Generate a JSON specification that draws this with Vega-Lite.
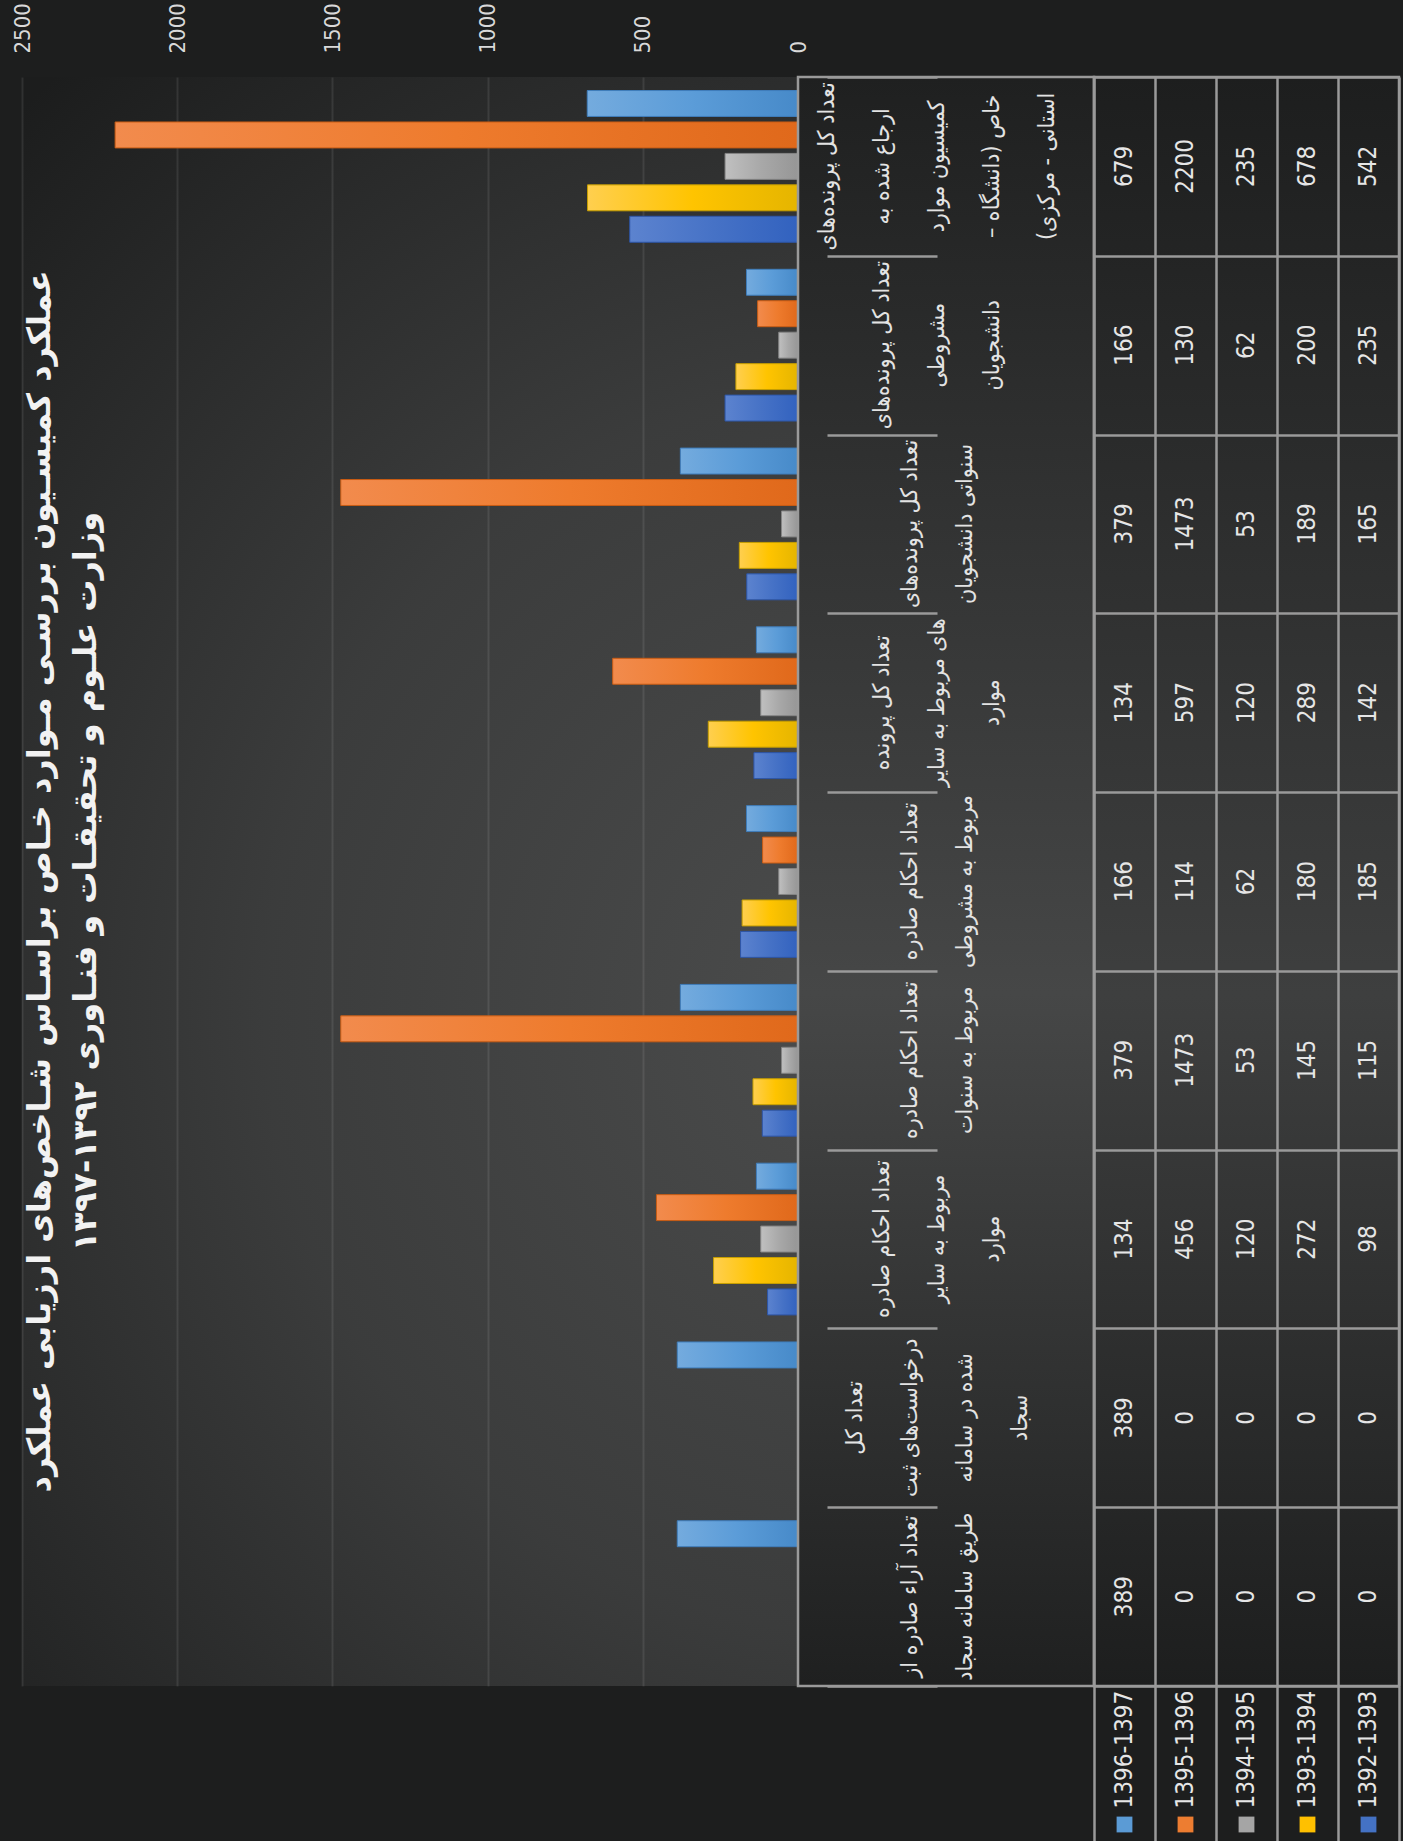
{
  "$schema": "https://vega.github.io/schema/vega-lite/v6.json",
  "autosize": {"type": "pad"},
  "padding": {"left": 10, "top": 2, "right": 2, "bottom": 0},
  "background": "#1d1e1e",
  "bounds": "flush",
  "spacing": 0,
  "config": {
    "view": {"stroke": null},
    "font": "DejaVu Sans",
    "axis": {"title": null}
  },
  "datasets": {
    "rows": [
      {"indicator": "تعداد کل پرونده‌های\nارجاع شده به\nکمیسیون موارد\nخاص (دانشگاه –\u200f\nاستانی - مرکزی)\u200f", "period": "1396-1397", "value": 679},
      {"indicator": "تعداد کل پرونده‌های\nارجاع شده به\nکمیسیون موارد\nخاص (دانشگاه –\u200f\nاستانی - مرکزی)\u200f", "period": "1395-1396", "value": 2200},
      {"indicator": "تعداد کل پرونده‌های\nارجاع شده به\nکمیسیون موارد\nخاص (دانشگاه –\u200f\nاستانی - مرکزی)\u200f", "period": "1394-1395", "value": 235},
      {"indicator": "تعداد کل پرونده‌های\nارجاع شده به\nکمیسیون موارد\nخاص (دانشگاه –\u200f\nاستانی - مرکزی)\u200f", "period": "1393-1394", "value": 678},
      {"indicator": "تعداد کل پرونده‌های\nارجاع شده به\nکمیسیون موارد\nخاص (دانشگاه –\u200f\nاستانی - مرکزی)\u200f", "period": "1392-1393", "value": 542},
      {"indicator": "تعداد کل پرونده‌های\nمشروطی\nدانشجویان", "period": "1396-1397", "value": 166},
      {"indicator": "تعداد کل پرونده‌های\nمشروطی\nدانشجویان", "period": "1395-1396", "value": 130},
      {"indicator": "تعداد کل پرونده‌های\nمشروطی\nدانشجویان", "period": "1394-1395", "value": 62},
      {"indicator": "تعداد کل پرونده‌های\nمشروطی\nدانشجویان", "period": "1393-1394", "value": 200},
      {"indicator": "تعداد کل پرونده‌های\nمشروطی\nدانشجویان", "period": "1392-1393", "value": 235},
      {"indicator": "تعداد کل پرونده‌های\nسنواتی دانشجویان", "period": "1396-1397", "value": 379},
      {"indicator": "تعداد کل پرونده‌های\nسنواتی دانشجویان", "period": "1395-1396", "value": 1473},
      {"indicator": "تعداد کل پرونده‌های\nسنواتی دانشجویان", "period": "1394-1395", "value": 53},
      {"indicator": "تعداد کل پرونده‌های\nسنواتی دانشجویان", "period": "1393-1394", "value": 189},
      {"indicator": "تعداد کل پرونده‌های\nسنواتی دانشجویان", "period": "1392-1393", "value": 165},
      {"indicator": "تعداد کل پرونده\nهای مربوط به سایر\nموارد", "period": "1396-1397", "value": 134},
      {"indicator": "تعداد کل پرونده\nهای مربوط به سایر\nموارد", "period": "1395-1396", "value": 597},
      {"indicator": "تعداد کل پرونده\nهای مربوط به سایر\nموارد", "period": "1394-1395", "value": 120},
      {"indicator": "تعداد کل پرونده\nهای مربوط به سایر\nموارد", "period": "1393-1394", "value": 289},
      {"indicator": "تعداد کل پرونده\nهای مربوط به سایر\nموارد", "period": "1392-1393", "value": 142},
      {"indicator": "تعداد احکام صادره\nمربوط به مشروطی", "period": "1396-1397", "value": 166},
      {"indicator": "تعداد احکام صادره\nمربوط به مشروطی", "period": "1395-1396", "value": 114},
      {"indicator": "تعداد احکام صادره\nمربوط به مشروطی", "period": "1394-1395", "value": 62},
      {"indicator": "تعداد احکام صادره\nمربوط به مشروطی", "period": "1393-1394", "value": 180},
      {"indicator": "تعداد احکام صادره\nمربوط به مشروطی", "period": "1392-1393", "value": 185},
      {"indicator": "تعداد احکام صادره\nمربوط به سنوات", "period": "1396-1397", "value": 379},
      {"indicator": "تعداد احکام صادره\nمربوط به سنوات", "period": "1395-1396", "value": 1473},
      {"indicator": "تعداد احکام صادره\nمربوط به سنوات", "period": "1394-1395", "value": 53},
      {"indicator": "تعداد احکام صادره\nمربوط به سنوات", "period": "1393-1394", "value": 145},
      {"indicator": "تعداد احکام صادره\nمربوط به سنوات", "period": "1392-1393", "value": 115},
      {"indicator": "تعداد احکام صادره\nمربوط به سایر\nموارد", "period": "1396-1397", "value": 134},
      {"indicator": "تعداد احکام صادره\nمربوط به سایر\nموارد", "period": "1395-1396", "value": 456},
      {"indicator": "تعداد احکام صادره\nمربوط به سایر\nموارد", "period": "1394-1395", "value": 120},
      {"indicator": "تعداد احکام صادره\nمربوط به سایر\nموارد", "period": "1393-1394", "value": 272},
      {"indicator": "تعداد احکام صادره\nمربوط به سایر\nموارد", "period": "1392-1393", "value": 98},
      {"indicator": "تعداد کل\nدرخواست‌های ثبت\nشده در سامانه\nسجاد", "period": "1396-1397", "value": 389},
      {"indicator": "تعداد کل\nدرخواست‌های ثبت\nشده در سامانه\nسجاد", "period": "1395-1396", "value": 0},
      {"indicator": "تعداد کل\nدرخواست‌های ثبت\nشده در سامانه\nسجاد", "period": "1394-1395", "value": 0},
      {"indicator": "تعداد کل\nدرخواست‌های ثبت\nشده در سامانه\nسجاد", "period": "1393-1394", "value": 0},
      {"indicator": "تعداد کل\nدرخواست‌های ثبت\nشده در سامانه\nسجاد", "period": "1392-1393", "value": 0},
      {"indicator": "تعداد آراء صادره از\nطریق سامانه سجاد", "period": "1396-1397", "value": 389},
      {"indicator": "تعداد آراء صادره از\nطریق سامانه سجاد", "period": "1395-1396", "value": 0},
      {"indicator": "تعداد آراء صادره از\nطریق سامانه سجاد", "period": "1394-1395", "value": 0},
      {"indicator": "تعداد آراء صادره از\nطریق سامانه سجاد", "period": "1393-1394", "value": 0},
      {"indicator": "تعداد آراء صادره از\nطریق سامانه سجاد", "period": "1392-1393", "value": 0}
    ]
  },
  "hconcat": [
    {
      "width": 776,
      "height": 1609,
      "data": {"name": "rows"},
      "view": {"fill": {"gradient": "radial", "x1": 0.8, "y1": 0.58, "r1": 0, "x2": 0.8, "y2": 0.58, "r2": 0.78, "stops": [{"offset": 0, "color": "#4c4d4d"}, {"offset": 0.5, "color": "#3b3c3c"}, {"offset": 1, "color": "#1c1d1d"}]}},
      "title": {
        "text": ["عملکرد کمیسـیون بررسـی مـوارد خـاص براسـاس شـاخص‌های ارزیابی عملکرد", "وزارت علـوم و تحقیقـات و فنـاوری ۱۳۹۲-۱۳۹۷"],
        "orient": "left",
        "anchor": "middle",
        "offset": -92,
        "font": "DejaVu Sans",
        "fontSize": 32,
        "fontWeight": "bold",
        "color": "#f2f2f2",
        "lineHeight": 46
      },
      "encoding": {
        "x": {
          "field": "value",
          "type": "quantitative",
          "scale": {"domain": [0, 2500], "reverse": true, "nice": false},
          "axis": {
            "orient": "top",
            "values": [0, 500, 1000, 1500, 2000, 2500],
            "format": "d",
            "labelAngle": 270,
            "labelAlign": "left",
            "labelBaseline": "middle",
            "labelPadding": 24,
            "labelFont": "DejaVu Sans Condensed, DejaVu Sans",
            "labelFontSize": 22,
            "labelColor": "#d9d9d9",
            "ticks": false,
            "domain": false,
            "grid": true,
            "gridColor": "#ffffff",
            "gridOpacity": 0.09,
            "gridWidth": 2
          }
        },
        "y": {
          "field": "indicator",
          "type": "nominal",
          "sort": null,
          "scale": {"paddingInner": 0, "paddingOuter": 0},
          "axis": null
        },
        "yOffset": {
          "field": "period",
          "type": "nominal",
          "scale": {"domain": ["1396-1397", "1395-1396", "1394-1395", "1393-1394", "1392-1393"], "paddingInner": 0.175, "paddingOuter": 0.43}
        }
      },
      "layer": [
        {
          "transform": [{"filter": {"field": "period", "equal": "1396-1397"}}],
          "mark": {"type": "bar", "stroke": "#3f7dbb", "strokeWidth": 1, "color": {"gradient": "linear", "x1": 0, "y1": 0, "x2": 1, "y2": 0, "stops": [{"offset": 0, "color": "#74abde"}, {"offset": 0.5, "color": "#5b9cd8"}, {"offset": 1, "color": "#478ac9"}]}}
        },
        {
          "transform": [{"filter": {"field": "period", "equal": "1395-1396"}}],
          "mark": {"type": "bar", "stroke": "#c85c14", "strokeWidth": 1, "color": {"gradient": "linear", "x1": 0, "y1": 0, "x2": 1, "y2": 0, "stops": [{"offset": 0, "color": "#f28b4d"}, {"offset": 0.5, "color": "#ee7b2d"}, {"offset": 1, "color": "#e0691b"}]}}
        },
        {
          "transform": [{"filter": {"field": "period", "equal": "1394-1395"}}],
          "mark": {"type": "bar", "stroke": "#858585", "strokeWidth": 1, "color": {"gradient": "linear", "x1": 0, "y1": 0, "x2": 1, "y2": 0, "stops": [{"offset": 0, "color": "#c0c0c0"}, {"offset": 0.5, "color": "#a8a8a8"}, {"offset": 1, "color": "#969696"}]}}
        },
        {
          "transform": [{"filter": {"field": "period", "equal": "1393-1394"}}],
          "mark": {"type": "bar", "stroke": "#c79f00", "strokeWidth": 1, "color": {"gradient": "linear", "x1": 0, "y1": 0, "x2": 1, "y2": 0, "stops": [{"offset": 0, "color": "#ffcf4f"}, {"offset": 0.5, "color": "#ffc400"}, {"offset": 1, "color": "#e5b500"}]}}
        },
        {
          "transform": [{"filter": {"field": "period", "equal": "1392-1393"}}],
          "mark": {"type": "bar", "stroke": "#2d56a8", "strokeWidth": 1, "color": {"gradient": "linear", "x1": 0, "y1": 0, "x2": 1, "y2": 0, "stops": [{"offset": 0, "color": "#5c83cf"}, {"offset": 0.5, "color": "#4672c6"}, {"offset": 1, "color": "#3262bf"}]}}
        }
      ]
    },
    {
      "width": 296,
      "height": 1609,
      "data": {"name": "rows"},
      "transform": [
        {"filter": {"field": "period", "equal": "1396-1397"}},
        {"calculate": "length(split(datum.indicator, '\\n'))", "as": "lineCount"}
      ],
      "view": {"stroke": "#9a9a9a", "strokeWidth": 2.5, "fill": {"gradient": "linear", "x1": 0, "y1": 0, "x2": 0, "y2": 1, "stops": [{"offset": 0, "color": "#1f2020"}, {"offset": 0.57, "color": "#464747"}, {"offset": 1, "color": "#1f2020"}]}},
      "mark": {"type": "text", "angle": 270, "align": "center", "baseline": "middle", "lineBreak": "\n", "lineHeight": 55, "font": "DejaVu Sans Condensed, DejaVu Sans", "fontSize": 23, "color": "#e3e3e3"},
      "encoding": {
        "x": {"field": "lineCount", "type": "quantitative", "scale": {"domain": [1, 5], "range": [139, 29]}, "axis": null},
        "y": {
          "field": "indicator",
          "type": "nominal",
          "sort": null,
          "scale": {"paddingInner": 0, "paddingOuter": 0},
          "axis": {"grid": true, "tickBand": "extent", "labels": false, "ticks": false, "domain": false, "gridColor": "#9a9a9a", "gridWidth": 2.5}
        },
        "text": {"field": "indicator", "type": "nominal"}
      }
    },
    {
      "bounds": "flush",
      "spacing": 0,
      "vconcat": [
        {
          "width": 305,
          "height": 1609,
          "data": {"name": "rows"},
          "view": {"stroke": "#9a9a9a", "strokeWidth": 2.5, "fill": {"gradient": "linear", "x1": 0, "y1": 0, "x2": 0, "y2": 1, "stops": [{"offset": 0, "color": "#1d1e1e"}, {"offset": 0.57, "color": "#3e3f3f"}, {"offset": 1, "color": "#1d1e1e"}]}},
          "mark": {"type": "text", "angle": 270, "align": "center", "baseline": "middle", "font": "DejaVu Sans Condensed, DejaVu Sans", "fontSize": 24, "color": "#e6e6e6"},
          "encoding": {
            "x": {
              "field": "period",
              "type": "nominal",
              "sort": ["1396-1397", "1395-1396", "1394-1395", "1393-1394", "1392-1393"],
              "scale": {"paddingInner": 0, "paddingOuter": 0},
              "axis": {"orient": "top", "grid": true, "tickBand": "extent", "labels": false, "ticks": false, "domain": false, "gridColor": "#9a9a9a", "gridWidth": 2.5}
            },
            "y": {
              "field": "indicator",
              "type": "nominal",
              "sort": null,
              "scale": {"paddingInner": 0, "paddingOuter": 0},
              "axis": {"grid": true, "tickBand": "extent", "labels": false, "ticks": false, "domain": false, "gridColor": "#9a9a9a", "gridWidth": 2.5}
            },
            "text": {"field": "value", "type": "quantitative", "format": "d"}
          }
        },
        {
          "width": 305,
          "height": 155,
          "data": {"name": "rows"},
          "transform": [{"aggregate": [{"op": "count", "as": "n"}], "groupby": ["period"]}],
          "encoding": {
            "x": {
              "field": "period",
              "type": "nominal",
              "sort": ["1396-1397", "1395-1396", "1394-1395", "1393-1394", "1392-1393"],
              "scale": {"paddingInner": 0, "paddingOuter": 0},
              "axis": {"orient": "top", "grid": true, "tickBand": "extent", "labels": false, "ticks": false, "domain": false, "gridColor": "#9a9a9a", "gridWidth": 2.5}
            }
          },
          "layer": [
            {
              "mark": {"type": "text", "angle": 270, "align": "left", "baseline": "middle", "dx": -45, "font": "DejaVu Sans Condensed, DejaVu Sans", "fontSize": 24, "color": "#e6e6e6"},
              "encoding": {"text": {"field": "period", "type": "nominal"}}
            },
            {
              "mark": {"type": "point", "shape": "square", "filled": true, "opacity": 1, "size": 250, "yOffset": 61},
              "encoding": {
                "color": {
                  "field": "period",
                  "type": "nominal",
                  "scale": {"domain": ["1396-1397", "1395-1396", "1394-1395", "1393-1394", "1392-1393"], "range": ["#5b9bd5", "#ed7d31", "#a5a5a5", "#ffc000", "#4472c4"]},
                  "legend": null
                }
              }
            }
          ]
        }
      ]
    }
  ]
}
